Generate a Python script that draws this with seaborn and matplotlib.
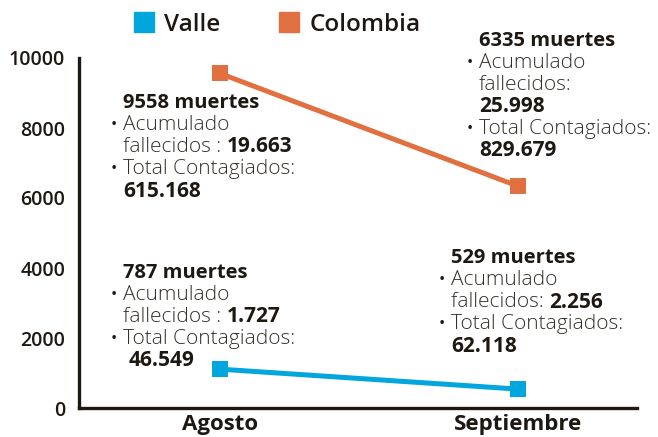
import matplotlib
matplotlib.use("Agg")
import matplotlib.pyplot as plt
import seaborn as sns
import pandas as pd
from matplotlib.lines import Line2D

# Datos
meses = ["Agosto", "Septiembre"]
valle = [1110, 540]
colombia = [9560, 6340]
y_ticks = [0, 2000, 4000, 6000, 8000, 10000]

# anotaciones: (titulo, acumulado, total)
notas_colombia = [("9558 muertes", "19.663", "615.168"),
                  ("6335 muertes", "25.998", "829.679")]
notas_valle = [("787 muertes", "1.727", "46.549"),
               ("529 muertes", "2.256", "62.118")]

AZUL = "#00a6dc"
NARANJA = "#e07040"
TEXTO = "#1e1812"
TEXTO_SUAVE = "#35302b"

df = pd.DataFrame({
    "mes": meses * 2,
    "x": [0, 1, 0, 1],
    "muertes": valle + colombia,
    "region": ["Valle"] * 2 + ["Colombia"] * 2,
})

sns.set_style("white")
plt.rcParams["font.family"] = ["Open Sans", "DejaVu Sans"]

W, H = 658, 437
fig = plt.figure(figsize=(W / 100, H / 100), dpi=100)
ax = fig.add_axes([79 / W, (H - 408) / H, (637 - 79) / W, 350 / H])

sns.lineplot(data=df, x="x", y="muertes", hue="region",
             palette={"Valle": AZUL, "Colombia": NARANJA},
             marker="s", markersize=11.5, markeredgewidth=0,
             linewidth=3.6, ax=ax, legend=False)

ax.set_xlim(-0.473, 1.40)
ax.set_ylim(0, 10000)
ax.set_xticks([0, 1, 1.40])
ax.set_xticklabels(meses + [""], fontsize=16, fontweight="bold", color=TEXTO)
ax.set_yticks(y_ticks)
ax.set_yticklabels([str(v) for v in y_ticks], fontsize=14,
                   fontweight="semibold", color=TEXTO)
ax.tick_params(axis="both", direction="in", length=8, width=2.2,
               color=TEXTO)
ax.tick_params(axis="y", pad=10)
ax.tick_params(axis="x", pad=4)
ax.set_xlabel("")
ax.set_ylabel("")
for s in ["top", "right"]:
    ax.spines[s].set_visible(False)
for s in ["left", "bottom"]:
    ax.spines[s].set_color(TEXTO)
    ax.spines[s].set_linewidth(2.4)


def px(x, y):
    return x / W, 1 - y / H


FS = 15


def bloque(x, y, titulo, acum, total, sep="fallecidos : ", partido=False,
           ind_total=0):
    paso = 22
    fig.text(*px(x, y), titulo, fontsize=14.5, fontweight="bold",
             color=TEXTO, va="center")
    y += paso
    fig.text(*px(x - 12, y), "•", fontsize=12, color=TEXTO, va="center")
    fig.text(*px(x, y), "Acumulado", fontsize=FS, fontweight="light",
             color=TEXTO_SUAVE, va="center")
    y += paso
    t = fig.text(*px(x, y), sep, fontsize=FS, fontweight="light",
                 color=TEXTO_SUAVE, va="center")
    if partido:
        y += paso
        fig.text(*px(x, y), acum, fontsize=FS, fontweight="bold",
                 color=TEXTO, va="center")
    else:
        ax.annotate(acum, xy=(1, 0.5), xycoords=t, va="center",
                    fontsize=FS, fontweight="bold", color=TEXTO)
    y += paso
    fig.text(*px(x - 12, y), "•", fontsize=12, color=TEXTO, va="center")
    fig.text(*px(x, y), "Total Contagiados:", fontsize=FS,
             fontweight="light", color=TEXTO_SUAVE, va="center")
    y += paso
    fig.text(*px(x + ind_total, y), total, fontsize=FS, fontweight="bold",
             color=TEXTO, va="center")


bloque(123, 103, *notas_colombia[0])
bloque(479, 41, *notas_colombia[1], sep="fallecidos:", partido=True)
bloque(123, 273, *notas_valle[0], ind_total=6)
bloque(451, 258, *notas_valle[1], sep="fallecidos: ")

# leyenda
handles = [Line2D([], [], marker="s", color=AZUL, linestyle="none",
                  markersize=15),
           Line2D([], [], marker="s", color=NARANJA, linestyle="none",
                  markersize=15)]
fig.legend(handles, ["Valle", "Colombia"], loc="center",
           bbox_to_anchor=px(276, 25), ncol=2, frameon=False,
           prop={"size": 17.5, "weight": "semibold"}, handletextpad=0.35,
           columnspacing=2.3, handlelength=1.0, labelcolor=TEXTO)

fig.savefig("out.png", dpi=100)
